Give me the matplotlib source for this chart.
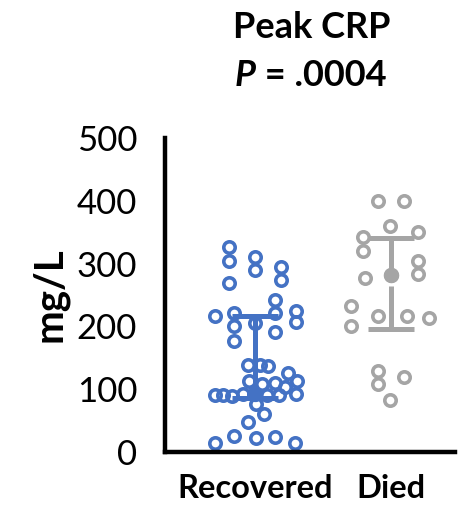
import matplotlib
matplotlib.use("Agg")
import matplotlib.pyplot as plt
import numpy as np

plt.rcParams['font.family'] = ['Lato', 'DejaVu Sans']

# ---- data ----
categories = ["Recovered", "Died"]
yticks = [0, 100, 200, 300, 400, 500]

recovered_vals = [326, 304, 311, 290, 295, 274, 269, 242, 216, 222, 222, 225, 207,
                  200, 177, 205, 191, 138, 138, 137, 126, 113, 113, 108, 110, 104,
                  90, 90, 89, 92, 93, 90, 90, 92, 77, 61, 48, 25, 22, 24, 14, 14]
recovered_off = [-0.195, -0.195, 0.0, 0.0, 0.188, 0.188, -0.195, 0.15, -0.293, -0.158,
                 0.15, 0.30, 0.30, -0.158, -0.158, 0.0, 0.15, -0.053, 0.038, 0.098,
                 0.24, 0.308, -0.045, 0.053, 0.143, 0.218, -0.293, -0.233, -0.173,
                 -0.09, -0.008, 0.09, 0.173, 0.30, 0.008, 0.068, -0.053, -0.158,
                 0.008, 0.15, -0.293, 0.293]

died_vals = [400, 400, 360, 342, 351, 320, 304, 284, 277, 232, 200, 217, 216, 214,
             129, 108, 119, 83]
died_off = [-0.095, 0.092, -0.008, -0.208, 0.198, -0.208, 0.198, 0.198, -0.195,
            -0.295, -0.295, -0.095, 0.113, 0.28, -0.095, -0.095, 0.098, -0.008]

medians = [92, 282]
q1 = [86, 196]
q3 = [216, 341]

# ---- style ----
colors = ["#4472C4", "#A5A5A5"]
line_gap = [0, 18]

fig = plt.figure(figsize=(4.59, 5.05), dpi=100)
ax = fig.add_axes([0.3595, 0.105, 0.632, 0.6218])

groups = [(recovered_vals, recovered_off), (died_vals, died_off)]
for i, (vals, offs) in enumerate(groups):
    xc = i + 1
    col = colors[i]
    xs = xc + np.array(offs)
    ax.plot([xc], [medians[i]], marker='o', markersize=10, color=col, zorder=2)
    ax.plot(xs, vals, linestyle='none', marker='o', markersize=8.2,
            markerfacecolor='none', markeredgecolor=col, markeredgewidth=2.6, zorder=3)
    # error bar (median + IQR)
    ax.plot([xc, xc], [medians[i], q3[i]], color=col, lw=3.6, zorder=4, solid_capstyle='butt')
    ax.plot([xc, xc], [q1[i], medians[i] - line_gap[i]], color=col, lw=3.6, zorder=4,
            solid_capstyle='butt')
    ax.plot([xc - 0.17, xc + 0.17], [q3[i], q3[i]], color=col, lw=3.6, zorder=4,
            solid_capstyle='butt')
    ax.plot([xc - 0.17, xc + 0.17], [q1[i], q1[i]], color=col, lw=3.6, zorder=4,
            solid_capstyle='butt')
    if line_gap[i]:
        ax.plot([xc], [medians[i]], marker='o', markersize=10, color=col, zorder=5)

ax.set_xlim(0.338, 2.47)
ax.set_ylim(0, 500)
ax.set_yticks(yticks)
ax.set_yticklabels([str(t) for t in yticks], fontsize=25)
ax.set_xticks([1, 2])
ax.set_xticklabels(categories, fontsize=23.5, fontweight='bold')
ax.tick_params(axis='y', direction='in', length=3, width=1, color='white', pad=20)
ax.tick_params(axis='x', direction='in', length=3, width=1, color='white', pad=16)
for s in ['top', 'right']:
    ax.spines[s].set_visible(False)
for s in ['left', 'bottom']:
    ax.spines[s].set_linewidth(3.2)
    ax.spines[s].set_color('black')
    ax.spines[s].set_zorder(6)

ax.set_ylabel("mg/L", fontsize=29, fontweight='bold', labelpad=6)

fig.text(0.68, 0.945, "Peak CRP", ha='center', va='center', fontsize=26, fontweight='bold')
t1 = fig.text(0.512, 0.85, "P", ha='left', va='center', fontsize=26, fontweight='bold',
              fontstyle='italic')
ax.annotate(" = .0004", xy=(1, 0), xycoords=t1, ha='left', va='bottom', fontsize=26,
            fontweight='bold', annotation_clip=False)

fig.savefig("out.png", dpi=100)
